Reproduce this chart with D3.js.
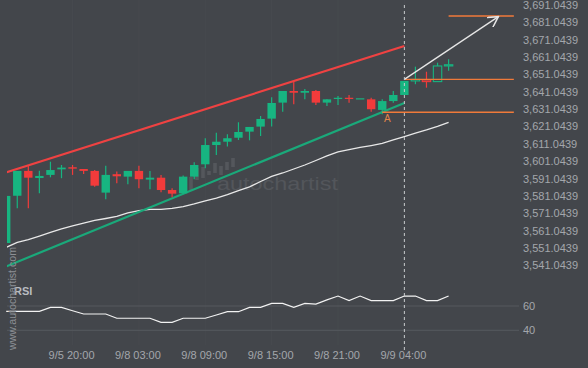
<!DOCTYPE html>
<html><head><meta charset="utf-8">
<script src="https://cdn.jsdelivr.net/npm/d3@7"></script>
<style>
html,body{margin:0;padding:0;background:#43464b;}
svg{display:block;}
text{font-family:"Liberation Sans",Arial,sans-serif;}
</style></head>
<body>
<script>
// ---------- data ----------
const opens  = [3553.3,3580.5,3594.8,3590.7,3592.5,3595.7,3596.9,3595.9,3594.8,3582.3,3592.9,3591.5,3594.8,3589.8,3590.9,3583.8,3581.9,3591.5,3598.6,3609.7,3611.6,3613.9,3617.4,3620.3,3624.9,3634.1,3640.8,3639.8,3640.8,3634.1,3636.4,3636.9,3636.6,3636.0,3629.9,3635.0,3638.5,3646.6,3647.1,3646.2,3655.5];
const highs  = [3580.4,3594.8,3597.6,3594.9,3600.1,3598.2,3598.2,3595.9,3595.3,3597.8,3594.4,3594.8,3597.8,3594.8,3592.5,3584.8,3592.1,3599.8,3613.6,3616.8,3615.9,3622.8,3620.1,3626.4,3637.2,3640.8,3646.2,3642.0,3641.4,3636.0,3637.9,3638.5,3636.6,3636.9,3636.0,3640.8,3646.6,3654.8,3651.9,3657.1,3659.0];
const lows   = [3553.3,3573.3,3573.3,3581.9,3591.1,3590.6,3592.5,3593.0,3585.7,3578.5,3587.7,3587.1,3584.8,3584.2,3582.5,3579.6,3581.4,3590.0,3596.3,3604.0,3608.9,3612.6,3612.4,3614.9,3620.3,3628.9,3633.1,3636.0,3632.7,3632.2,3632.7,3634.1,3636.6,3628.9,3627.4,3634.1,3638.5,3644.7,3642.7,3646.2,3652.5];
const closes = [3580.4,3594.8,3590.9,3591.9,3595.3,3596.7,3596.1,3594.8,3586.3,3592.5,3591.7,3594.8,3590.0,3590.9,3583.8,3581.7,3591.5,3598.2,3609.7,3611.6,3613.6,3617.2,3620.1,3624.7,3633.9,3640.8,3639.8,3640.8,3634.1,3636.0,3636.9,3636.4,3636.6,3630.3,3635.0,3638.5,3646.6,3647.5,3646.2,3655.2,3655.9];
const maValues = [3550.8,3553.6,3555.3,3557.3,3559.4,3561.4,3563.1,3564.8,3566.3,3567.4,3568.6,3570.6,3572.0,3572.7,3572.7,3573.2,3574.3,3575.8,3577.5,3579.2,3581.2,3583.5,3585.6,3588.7,3591.6,3593.6,3595.9,3598.2,3600.8,3603.4,3605.7,3607.1,3608.3,3609.4,3610.6,3612.6,3614.6,3616.6,3618.4,3620.4,3622.7];
const rsiValues = [55.6,55.6,55.6,55.6,58.9,58.9,56.1,53.4,53.4,53.4,49.9,49.9,49.9,49.9,46.6,46.6,49.9,49.9,49.9,52.6,55.3,55.3,58.9,58.9,62.2,62.2,58.9,62.2,61.6,65.0,68.2,64.4,68.2,64.4,64.4,64.4,68.2,68.2,64.4,64.4,68.2];
const resistanceLine = [{i:0,p:3594.0},{i:36,p:3666.7}];
const supportLine    = [{i:0,p:3539.8},{i:36,p:3633.9}];
const targetLevel = {from:40, to:45.9, p:3684.0};
const breakoutLevel = {from:36, to:45.9, p:3647.5};
const pointALevel = {from:34.0, to:45.9, p:3628.5};
const forecastArrow = [{i:36,p:3647.5},{i:44.5,p:3683.6}];
const breakoutIndex = 36;
const priceTicks = d3.range(0,16).map(k => 3541.0439 + 10*k);
const rsiTicks = [40, 60];
const timeTickIndex = [6,12,18,24,30,36];
const timeTickLabels = ["9/5 20:00","9/8 03:00","9/8 09:00","9/8 15:00","9/8 21:00","9/9 04:00"];

// ---------- layout ----------
const W = 588, H = 368;
const C = {bg:"#43464b", green:"#17b581", red:"#f23b3b", redLine:"#ef4242", greenLine:"#1aa97a",
           text:"#a3a6ab", grid:"#56595e", orange:"#f07a3a"};

const x = d3.scaleLinear().domain([0,40]).range([6.2,448.6]);
const y = d3.scaleLinear().domain([3541.0439,3691.0439]).range([264.3,3.7]);
const ry = d3.scaleLinear().domain([40,60]).range([330.3,306]);

const svg = d3.select("body").append("svg").attr("width",W).attr("height",H);
svg.append("rect").attr("width",W).attr("height",H).attr("fill",C.bg);

const defs = svg.append("defs");
defs.append("clipPath").attr("id","plot").append("rect").attr("x",7).attr("y",0).attr("width",510).attr("height",272);
defs.append("marker").attr("id","arrow").attr("viewBox","0 0 10 10").attr("refX",9).attr("refY",5)
  .attr("markerWidth",9).attr("markerHeight",9).attr("orient","auto")
  .append("path").attr("d","M0,0 L9,5 L0,10").attr("fill","none").attr("stroke","#e6e6e6").attr("stroke-width",1.3);

// faint vertical grid
svg.append("g").selectAll("line").data(timeTickIndex).join("line")
  .attr("x1",d=>x(d)).attr("x2",d=>x(d)).attr("y1",0).attr("y2",345)
  .attr("stroke","#474a4f").attr("stroke-width",1);

// watermark
const wm = svg.append("g");
const logoBars = [[191,177,190],[197,168,180],[203,167,178],[209,171,175],[215,163,173],[221,166,175],[227,162,170],[233,158,167]];
wm.selectAll("rect").data(logoBars).join("rect")
  .attr("x",d=>d[0]-1.8).attr("y",d=>d[1]).attr("width",3.6).attr("height",d=>d[2]-d[1])
  .attr("fill","#54575c");
wm.append("text").attr("x",217).attr("y",190).attr("font-size",19).attr("fill","#53565b")
  .attr("textLength",121).attr("lengthAdjust","spacingAndGlyphs").text("autochartist");

const plot = svg.append("g").attr("clip-path","url(#plot)");

// moving average
plot.append("path").datum(maValues)
  .attr("d", d3.line().x((d,i)=>x(i)).y(d=>y(d)))
  .attr("fill","none").attr("stroke","#e8e8e8").attr("stroke-width",1.3);

// trend lines
plot.append("path").datum(resistanceLine).attr("d",d3.line().x(d=>x(d.i)).y(d=>y(d.p)))
  .attr("stroke",C.redLine).attr("stroke-width",2.2).attr("fill","none");
plot.append("path").datum(supportLine).attr("d",d3.line().x(d=>x(d.i)).y(d=>y(d.p)))
  .attr("stroke",C.greenLine).attr("stroke-width",2.2).attr("fill","none");

// candles
const candles = opens.map((o,i)=>({i,o,h:highs[i],l:lows[i],c:closes[i]}));
const bw = 8.4;
const cg = plot.append("g").selectAll("g").data(candles).join("g");
cg.append("line").attr("x1",d=>x(d.i)).attr("x2",d=>x(d.i))
  .attr("y1",d=>y(d.h)).attr("y2",d=>y(d.l))
  .attr("stroke",d=>d.c>=d.o?C.green:C.red).attr("stroke-width",1.2);
cg.append("rect")
  .attr("x",d=>x(d.i)-bw/2)
  .attr("y",d=>y(Math.max(d.o,d.c)))
  .attr("width",bw)
  .attr("height",d=>Math.max(1.2, Math.abs(y(d.o)-y(d.c))))
  .attr("fill",d=> d.i>breakoutIndex ? C.bg : (d.c>=d.o?C.green:C.red))
  .attr("stroke",d=> d.i>breakoutIndex ? (d.c>=d.o?C.green:C.red) : "none")
  .attr("stroke-width",1.1);

// levels
const levelLine = (lv,w) => svg.append("line")
  .attr("x1",x(lv.from)).attr("x2",x(lv.to)).attr("y1",y(lv.p)).attr("y2",y(lv.p))
  .attr("stroke",C.orange).attr("stroke-width",w);
levelLine(targetLevel,1.5);
levelLine(breakoutLevel,1.1);
levelLine(pointALevel,1.5);
svg.append("text").attr("x",x(pointALevel.from+0.15)).attr("y",y(pointALevel.p)+10)
  .attr("font-size",10).attr("fill","#e48548").text("A");

// forecast arrow
svg.append("path").datum(forecastArrow)
  .attr("d",d3.line().x(d=>x(d.i)).y(d=>y(d.p)))
  .attr("stroke","#e6e6e6").attr("stroke-width",1.3).attr("fill","none")
  .attr("marker-end","url(#arrow)");

// RSI grid
svg.append("g").selectAll("line").data(rsiTicks).join("line")
  .attr("x1",7).attr("x2",519).attr("y1",d=>ry(d)).attr("y2",d=>ry(d))
  .attr("stroke",C.grid).attr("stroke-width",1);

// RSI line
svg.append("path").datum(rsiValues)
  .attr("d",d3.line().x((d,i)=>x(i)).y(d=>ry(d)))
  .attr("fill","none").attr("stroke","#f2f2f2").attr("stroke-width",1.2);

svg.append("text").attr("x",14).attr("y",295).attr("font-size",11).attr("font-weight","bold")
  .attr("fill","#b9bcc0").text("RSI");

// breakout dashed line
svg.append("line").attr("x1",x(breakoutIndex)).attr("x2",x(breakoutIndex)).attr("y1",5).attr("y2",350)
  .attr("stroke","#c9cbce").attr("stroke-width",1).attr("stroke-dasharray","3,3");

// price axis
const yAxis = d3.axisRight(y).tickValues(priceTicks).tickFormat(d3.format(",.4f")).tickSize(0).tickPadding(0);
const ya = svg.append("g").attr("transform","translate(523,0)").call(yAxis);
ya.select(".domain").remove();
ya.selectAll("text").attr("fill",C.text).attr("font-size",11).attr("dy","0.42em")
  .attr("font-family","'Liberation Sans',Arial,sans-serif");

// rsi axis
const rAxis = d3.axisRight(ry).tickValues(rsiTicks).tickSize(0).tickPadding(0);
const ra = svg.append("g").attr("transform","translate(523,0)").call(rAxis);
ra.select(".domain").remove();
ra.selectAll("text").attr("fill",C.text).attr("font-size",11).attr("font-family","'Liberation Sans',Arial,sans-serif");

// time axis
const tAxis = d3.axisBottom(x).tickValues(timeTickIndex).tickFormat((d,k)=>timeTickLabels[k]).tickSize(0).tickPadding(0);
const ta = svg.append("g").attr("transform","translate(-1.5,351)").call(tAxis);
ta.select(".domain").remove();
ta.selectAll("text").attr("fill",C.text).attr("font-size",11).attr("font-family","'Liberation Sans',Arial,sans-serif");

// vertical site watermark
svg.append("text").attr("transform","translate(16,350) rotate(-90)")
  .attr("font-size",10.5).attr("fill","#8d9095").attr("textLength",103).attr("lengthAdjust","spacingAndGlyphs")
  .text("www.autochartist.com");
</script>
</body></html>
